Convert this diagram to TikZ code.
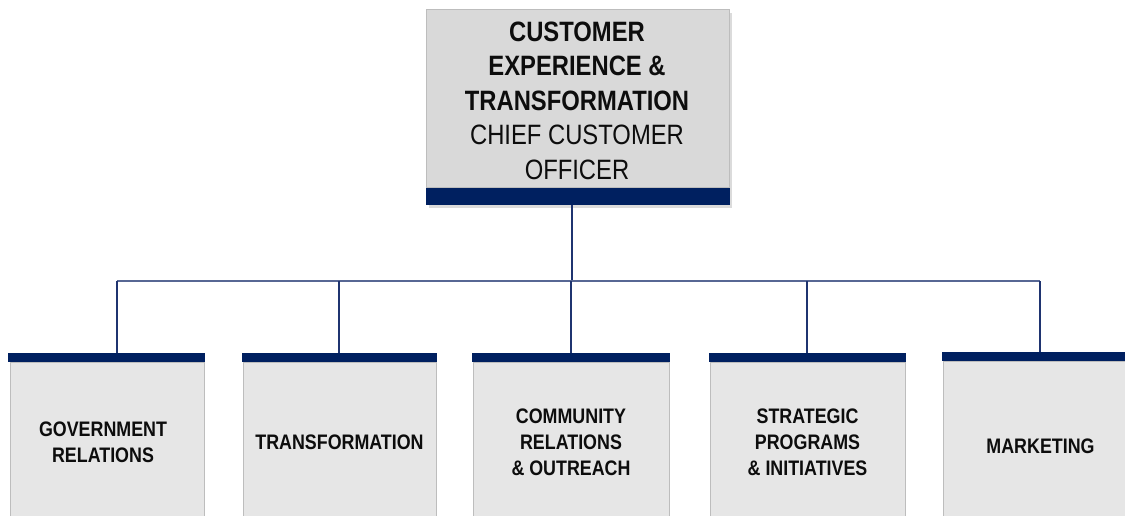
\documentclass[tikz,border=0pt]{standalone}
\usepackage{fontspec}
\newfontfamily\condfont[FakeStretch=0.85]{Liberation Sans}
\definecolor{navy}{HTML}{002060}
\definecolor{linenavy}{HTML}{1F3470}
\definecolor{toplight}{HTML}{D9D9D9}
\definecolor{unitlight}{HTML}{E6E6E6}
\definecolor{edgegray}{HTML}{BDBDBD}
\definecolor{ink}{HTML}{0D0D0D}
\tikzset{
  headbody/.style={draw=edgegray, line width=1pt, fill=toplight, minimum width=303pt,
    minimum height=178pt, inner sep=0pt, align=center, text=ink,
    font=\condfont\fontsize{28}{34.5}\selectfont},
  headband/.style={fill=navy, minimum width=304pt, minimum height=17pt, inner sep=0pt},
  unitband/.style={fill=navy, minimum height=9pt, inner sep=0pt},
  unitbody/.style={draw=edgegray, line width=1pt, fill=unitlight, inner sep=0pt,
    align=center, text=ink, font=\condfont\bfseries\fontsize{21}{26}\selectfont},
  vlink/.style={draw=linenavy, line width=1.1pt},
  hlink/.style={draw=linenavy!75, line width=1.1pt},
}
\begin{document}
\begin{tikzpicture}[x=1pt,y=-1pt]
\clip (0,0) rectangle (1125,516);
\fill[white] (0,0) rectangle (1125,516);

% head of the unit
\fill[black!14] (429,13) rectangle (732,208);
\node[headbody] (head) at (577.5,99) {};
\node[align=center, inner sep=0pt, text=ink,
  font=\condfont\fontsize{28}{34.5}\selectfont] (headtext) at (577,100.5)
  {\textbf{CUSTOMER}\\ \textbf{EXPERIENCE \&}\\ \textbf{TRANSFORMATION}\\ CHIEF CUSTOMER\\ OFFICER};
\node[headband] (headbar) at (577.5,196.5) {};

% reporting units
\node[unitbody, minimum width=194pt, minimum height=160pt] (gov) at (107,442)
  {\hspace*{-8pt}GOVERNMENT\\ \hspace*{-8pt}RELATIONS};
\node[unitband, minimum width=197pt] (govbar) at (106.5,357.5) {};

\node[unitbody, minimum width=193pt, minimum height=160pt] (trans) at (339.5,442)
  {TRANSFORMATION};
\node[unitband, minimum width=195pt] (transbar) at (339.5,357.5) {};

\node[unitbody, minimum width=196pt, minimum height=160pt] (comm) at (571,442)
  {COMMUNITY\\ RELATIONS\\ \&~OUTREACH};
\node[unitband, minimum width=198pt] (commbar) at (571,357.5) {};

\node[unitbody, minimum width=195pt, minimum height=160pt] (strat) at (807.5,442)
  {STRATEGIC\\ PROGRAMS\\ \&~INITIATIVES};
\node[unitband, minimum width=197pt] (stratbar) at (807.5,357.5) {};

\node[unitbody, minimum width=195pt, minimum height=170pt] (mkt) at (1040.5,446)
  {MARKETING};
\node[unitband, minimum width=197pt] (mktbar) at (1040.5,356.5) {};

% connector tree
\coordinate (hub) at (572,281);
\coordinate (dgov) at (117,281);
\coordinate (dtrans) at (339,281);
\coordinate (dcomm) at (571,281);
\coordinate (dstrat) at (807,281);
\coordinate (dmkt) at (1040,281);

\draw[vlink] (headbar.south -| hub) -- (hub);
\draw[hlink] (dgov) -- (dmkt);
\draw[vlink] (dgov) -- (dgov |- govbar.north);
\draw[vlink] (dtrans) -- (dtrans |- transbar.north);
\draw[vlink] (dcomm) -- (dcomm |- commbar.north);
\draw[vlink] (dstrat) -- (dstrat |- stratbar.north);
\draw[vlink] (dmkt) -- (dmkt |- mktbar.north);
\end{tikzpicture}
\end{document}
